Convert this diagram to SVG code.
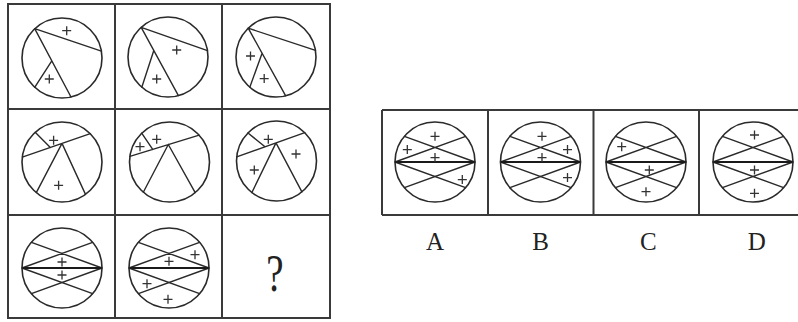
<svg xmlns="http://www.w3.org/2000/svg" width="798" height="322" viewBox="0 0 798 322">
<style>
.frame{fill:none;stroke:#3a3a3a;stroke-width:2}
.c{fill:none;stroke:#2a2a2a;stroke-width:1.6}
.l{fill:none;stroke:#2a2a2a;stroke-width:1.4;stroke-linecap:round}
.d{fill:none;stroke:#1a1a1a;stroke-width:2.2}
.p{fill:none;stroke:#333;stroke-width:1.3}
.lab{font-family:"Liberation Serif","DejaVu Serif",serif;fill:#222;text-anchor:middle}
</style>
<defs>
<path id="plus" class="p" d="M-4.5,0H4.5M0,-4.5V4.5"/>
<g id="xfig">
<circle class="c" r="40"/>
<path class="l" d="M-40,0L30.6,-25.7M40,0L-30.6,-25.7M-40,0L30.6,25.7M40,0L-30.6,25.7"/>
<path class="d" d="M-39.5,0H39.5"/>
</g>
</defs>

<g id="grid">
<rect class="frame" x="8" y="4" width="322" height="314"/>
<path class="frame" d="M115,4V318M222,4V318M8,109H330M8,215H330"/>
</g>

<g id="options-frame">
<path class="frame" d="M382,110H798M382,215H798M382,110V215M488,110V215M593.5,110V215M699,110V215"/>
</g>

<g id="cell1" transform="translate(62,58)">
<circle class="c" r="40"/>
<path class="l" d="M-27.3,-29.3L39.4,-6.9M-27.3,-29.3L9,39M-27.3,29.3L-10.2,2.8"/>
<use href="#plus" x="4.7" y="-27.3"/>
<use href="#plus" x="-12.7" y="21"/>
</g>

<g id="cell2" transform="translate(168,57)">
<circle class="c" r="40"/>
<path class="l" d="M-26.8,-29.7L39.5,-6.3M-26.8,-29.7L10.4,38.6M-26.2,30.2L-14.2,-6.5"/>
<use href="#plus" x="8.7" y="-7"/>
<use href="#plus" x="-11.3" y="22"/>
</g>

<g id="cell3" transform="translate(276,57)">
<circle class="c" r="40"/>
<path class="l" d="M-27.8,-28.8L39.5,-6.6M-27.8,-28.8L9.7,38.8M-26.2,30.2L-13.9,-3.8"/>
<use href="#plus" x="-25.5" y="-1"/>
<use href="#plus" x="-11.8" y="21.6"/>
</g>

<g id="cell4" transform="translate(62,162)">
<circle class="c" r="40"/>
<path class="l" d="M-39.7,-4.9L28.3,-28.3M0,-18.6L-25.7,30.6M0,-18.6L23.5,32.4M-26.8,-29.7L-11.7,-14.5"/>
<use href="#plus" x="-8.4" y="-21.7"/>
<use href="#plus" x="-3.4" y="23.3"/>
</g>

<g id="cell5" transform="translate(169.5,162)">
<circle class="c" r="40"/>
<path class="l" d="M-39.6,-5.6L29.7,-26.8M-1.2,-17.5L-26.2,30.2M-1.2,-17.5L25.7,30.6M-27.8,-28.8L-16.8,-12.6"/>
<use href="#plus" x="-29.5" y="-15.3"/>
<use href="#plus" x="-12.8" y="-22.7"/>
</g>

<g id="cell6" transform="translate(276.5,161)">
<circle class="c" r="40"/>
<path class="l" d="M-39.8,-4.2L28.3,-28.3M-0.5,-18.1L-24.6,31.5M-0.5,-18.1L25.4,30.9M-28.5,-28L-11.5,-14.2"/>
<use href="#plus" x="-8.2" y="-21.7"/>
<use href="#plus" x="19.5" y="-7"/>
<use href="#plus" x="-22.2" y="9"/>
</g>

<g id="cell7" transform="translate(62,268)">
<use href="#xfig"/>
<use href="#plus" x="0" y="-6"/>
<use href="#plus" x="0" y="7"/>
</g>

<g id="cell8" transform="translate(169,268)">
<use href="#xfig"/>
<use href="#plus" x="0" y="-6.7"/>
<use href="#plus" x="26" y="-13.3"/>
<use href="#plus" x="-22" y="15.7"/>
<use href="#plus" x="-1" y="31.3"/>
</g>

<g id="cell9">
<text class="lab" transform="translate(275,291) scale(0.75,1)" font-size="52">?</text>
</g>

<g id="optA" transform="translate(435,162)">
<use href="#xfig"/>
<use href="#plus" x="0" y="-25.7"/>
<use href="#plus" x="-27.7" y="-12.4"/>
<use href="#plus" x="0" y="-4.4"/>
<use href="#plus" x="27.3" y="17.6"/>
</g>

<g id="optB" transform="translate(540.5,162)">
<use href="#xfig"/>
<use href="#plus" x="1.5" y="-25.7"/>
<use href="#plus" x="27" y="-12.4"/>
<use href="#plus" x="1.5" y="-4.4"/>
<use href="#plus" x="27" y="15.6"/>
</g>

<g id="optC" transform="translate(646,162)">
<use href="#xfig"/>
<use href="#plus" x="-24.3" y="-15.3"/>
<use href="#plus" x="3.3" y="8"/>
<use href="#plus" x="0" y="29.7"/>
</g>

<g id="optD" transform="translate(753,162)">
<use href="#xfig"/>
<use href="#plus" x="1.5" y="-27"/>
<use href="#plus" x="1.5" y="8"/>
<use href="#plus" x="1.5" y="31.3"/>
</g>

<g id="labels">
<text class="lab" x="435" y="250" font-size="25">A</text>
<text class="lab" x="540.7" y="250" font-size="25">B</text>
<text class="lab" x="648.3" y="250" font-size="25">C</text>
<text class="lab" x="756.7" y="250" font-size="25">D</text>
</g>
</svg>
